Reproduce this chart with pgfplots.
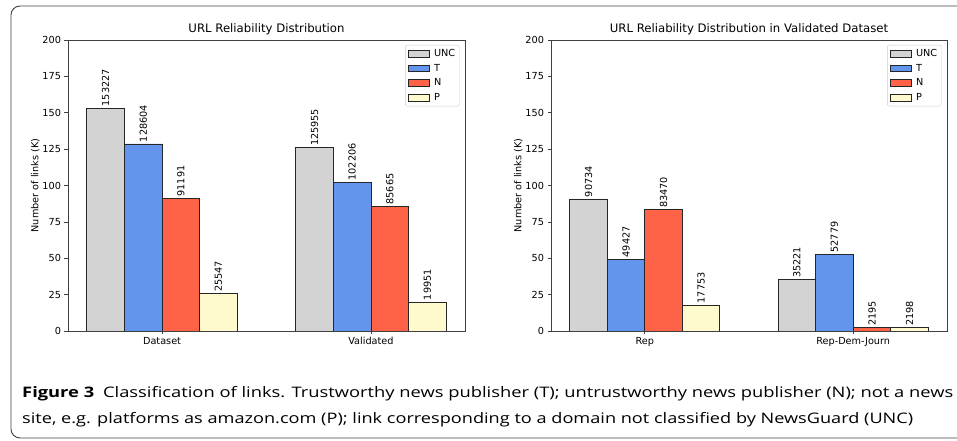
\documentclass[border=0pt]{standalone}
\usepackage{pgfplots}
\pgfplotsset{compat=1.18}
\usepackage{fontspec}
\setmainfont{DejaVu Sans}
\newfontfamily\capfont{Open Sans}
\definecolor{cUNC}{HTML}{D3D3D3}
\definecolor{cT}{HTML}{6495ED}
\definecolor{cN}{HTML}{FF6347}
\definecolor{cP}{HTML}{FFFACD}
\newcommand{\cf}{\fontsize{9.7bp}{11.5bp}\selectfont}
\newcommand{\tf}{\fontsize{11.7bp}{14bp}\selectfont}
\pgfplotsset{
 myaxis/.style={
  scale only axis, width=397bp, height=291bp, anchor=south west,
  ymin=0, ymax=200, ytick={0,25,...,200}, xmin=-0.45, xmax=1.45, xtick={0,1},
  tick align=outside, tick pos=left, major tick length=3.5bp,
  axis line style={draw=black!75, line width=0.6bp},
  every tick/.style={draw=black!75, line width=0.6bp},
  ticklabel style={font=\cf},
  /pgf/number format/assume math mode=true,
  ylabel={Number of links (K)}, ylabel style={font=\cf, yshift=-4bp},
  title style={font=\tf, yshift=-4bp},
  xticklabel style={yshift=1bp},
  ybar, bar width=0.18,
  point meta=explicit symbolic,
  nodes near coords={\pgfplotspointmeta},
  every node near coord/.append style={rotate=90, anchor=west, font=\cf, inner sep=1.5bp, black},
  legend style={at={(0.986,0.983)}, anchor=north east, draw=black!20, rounded corners=2bp,
    font=\cf, inner sep=2.5bp, row sep=3.2bp, nodes={inner sep=1.5bp}},
  legend cell align=left,
  legend image code/.code={\draw[#1, sharp corners] (0bp,-3.4bp) rectangle (21bp,3.4bp); \path (24bp,0bp);},
 },
 bstyle/.style={draw=black!85, line width=0.7bp},
}
\begin{document}
\begin{tikzpicture}
\useasboundingbox (0bp,0bp) rectangle (957bp,441bp);
\draw[black!75, line width=0.9bp, rounded corners=9bp] (11bp,3bp) rectangle (1000bp,435bp);
\begin{axis}[myaxis, at={(68bp,110bp)}, title={URL Reliability Distribution},
  xticklabels={Dataset,Validated}]
\addplot[bstyle, fill=cUNC, bar shift=-0.27] coordinates {(0,153.227)[153227] (1,125.955)[125955]};
\addplot[bstyle, fill=cT, bar shift=-0.09] coordinates {(0,128.604)[128604] (1,102.206)[102206]};
\addplot[bstyle, fill=cN, bar shift=0.09] coordinates {(0,91.191)[91191] (1,85.665)[85665]};
\addplot[bstyle, fill=cP, bar shift=0.27] coordinates {(0,25.547)[25547] (1,19.951)[19951]};
\legend{UNC,T,N,P}
\end{axis}
\begin{axis}[myaxis, at={(551bp,110bp)}, width=396bp, title={URL Reliability Distribution in Validated Dataset},
  xticklabels={Rep,Rep-Dem-Journ}]
\addplot[bstyle, fill=cUNC, bar shift=-0.27] coordinates {(0,90.734)[90734] (1,35.221)[35221]};
\addplot[bstyle, fill=cT, bar shift=-0.09] coordinates {(0,49.427)[49427] (1,52.779)[52779]};
\addplot[bstyle, fill=cN, bar shift=0.09] coordinates {(0,83.470)[83470] (1,2.195)[2195]};
\addplot[bstyle, fill=cP, bar shift=0.27] coordinates {(0,17.753)[17753] (1,2.198)[2198]};
\legend{UNC,T,N,P}
\end{axis}
\node[anchor=base west, inner sep=0pt, font=\capfont\fontsize{14.5bp}{17bp}\selectfont] at (22bp,43bp)
  {\resizebox{931bp}{\height}{\textbf{Figure 3}\hspace{7bp}Classification of links. Trustworthy news publisher (T); untrustworthy news publisher (N); not a news}};
\node[anchor=base west, inner sep=0pt, font=\capfont\fontsize{14.5bp}{17bp}\selectfont] at (22bp,18bp)
  {\resizebox{891bp}{\height}{site, e.g. platforms as amazon.com (P); link corresponding to a domain not classified by NewsGuard (UNC)}};
\end{tikzpicture}
\end{document}
